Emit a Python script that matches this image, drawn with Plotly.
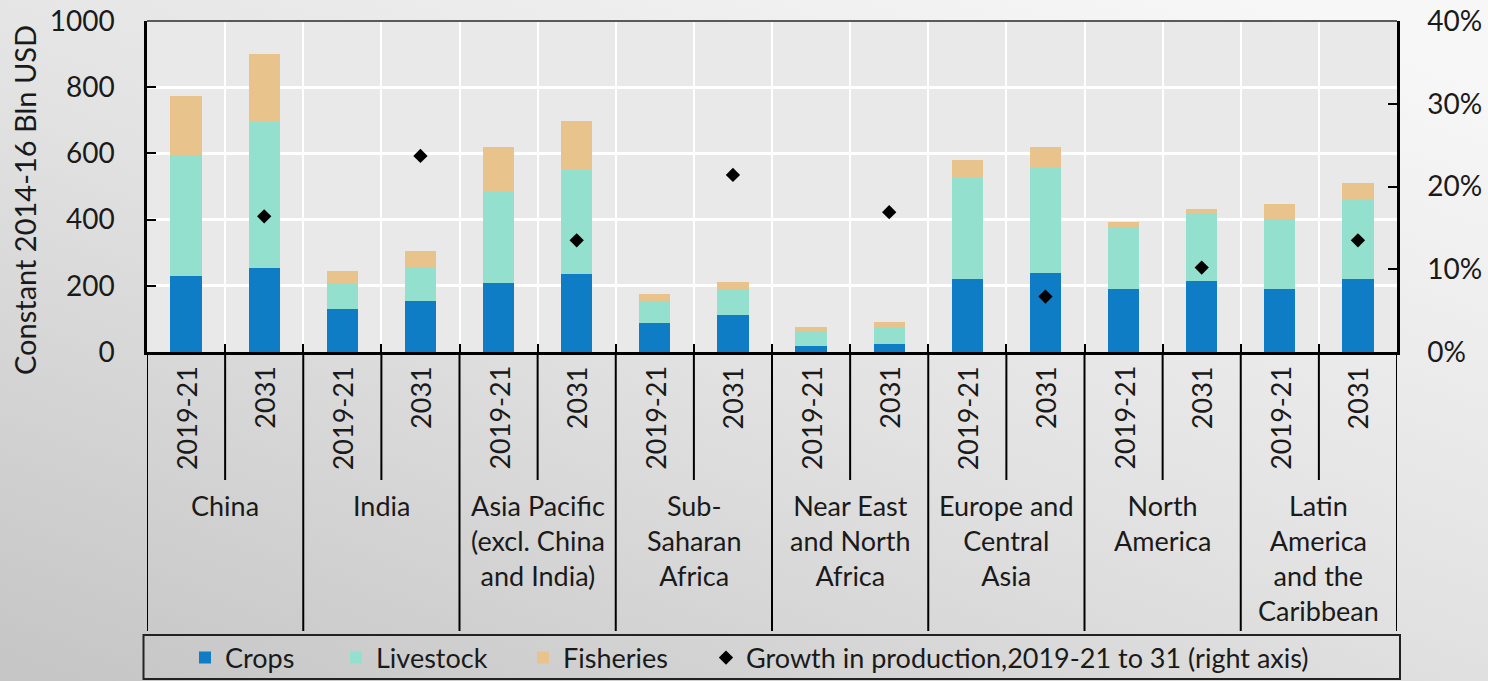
import base64
import plotly.graph_objects as go

# ---------------- data ----------------
regions = ["China", "India", "Asia Pacific<br>(excl. China<br>and India)", "Sub-<br>Saharan<br>Africa",
           "Near East<br>and North<br>Africa", "Europe and<br>Central<br>Asia", "North<br>America",
           "Latin<br>America<br>and the<br>Caribbean"]
periods = ["2019-21", "2031"]

crops = [231, 255, 130, 153, 208, 235, 88, 111, 18, 23, 220, 239, 189, 216, 189, 220]
livestock = [363, 441, 77, 105, 275, 316, 65, 78, 42, 50, 306, 321, 190, 202, 212, 239]
fisheries = [179, 204, 39, 46, 135, 148, 23, 23, 17, 19, 53, 58, 15, 14, 47, 51]
growth = [None, 0.164, None, 0.237, None, 0.135, None, 0.214,
          None, 0.169, None, 0.067, None, 0.102, None, 0.135]

y_ticks = [0, 200, 400, 600, 800, 1000]

# ---------------- layout constants ----------------
W, H = 1488, 681
ML, MR, MT, MB = 147, 91, 21, 329
PW = W - ML - MR
PH = H - MT - MB
FONT = "Lato"
TXT = "#1a1a1a"

n = len(crops)
xs = list(range(n))

fig = go.Figure()
fig.add_bar(x=xs, y=crops, name="Crops", marker_color="#0f7dc5", marker_line_width=0,
            legend="legend")
fig.add_bar(x=xs, y=livestock, name="Livestock", marker_color="#93e0ce", marker_line_width=0,
            legend="legend2")
fig.add_bar(x=xs, y=fisheries, name="Fisheries", marker_color="#e8c48c", marker_line_width=0,
            legend="legend3")
fig.add_scatter(x=xs, y=growth, name="Growth in production,2019-21 to 31 (right axis)",
                mode="markers", yaxis="y2", legend="legend4",
                marker=dict(symbol="diamond", size=11, color="black"))


def px_y(p):
    return (H - MB - p) / PH


def px_x(p):
    return (p - ML) / PW


annotations = []
shapes = []

# period labels
for i in xs:
    annotations.append(dict(x=i, y=0, xref="x", yref="paper", text=periods[i % 2],
                            textangle=-90, showarrow=False, xanchor="center", yanchor="top",
                            yshift=-12, font=dict(family=FONT, size=27, color=TXT)))
# region labels
for g, r in enumerate(regions):
    annotations.append(dict(x=2 * g + 0.5, y=0, xref="x", yref="paper", text=r,
                            showarrow=False, xanchor="center", yanchor="top",
                            yshift=-135, font=dict(family=FONT, size=27, color=TXT)))

# y axis title
annotations.append(dict(x=px_x(24), y=px_y(200), xref="paper", yref="paper",
                        text="Constant 2014-16 Bln USD", textangle=-90, showarrow=False,
                        xanchor="center", yanchor="middle",
                        font=dict(family=FONT, size=29, color=TXT)))

# separators below axis
for k in range(n + 1):
    b = k - 0.5
    bottom = 631 if k % 2 == 0 else 480
    shapes.append(dict(type="line", xref="x", yref="paper", x0=b, x1=b,
                       y0=0, y1=px_y(bottom), line=dict(color="black", width=2)))

# plot-area background (above gradient image)
shapes.append(dict(type="rect", xref="paper", yref="paper", x0=0, x1=1, y0=0, y1=1,
                   fillcolor="#e9e9e9", line=dict(width=0), layer="below"))
# top border
shapes.append(dict(type="line", xref="paper", yref="paper", x0=0, x1=1, y0=1, y1=1,
                   line=dict(color="#5a5a5a", width=2)))
# legend box
shapes.append(dict(type="rect", xref="paper", yref="paper",
                   x0=px_x(143.5), x1=px_x(1400), y0=px_y(679), y1=px_y(635),
                   line=dict(color="#222222", width=2)))

svg = ('<svg xmlns="http://www.w3.org/2000/svg" width="1488" height="681">'
       '<defs><linearGradient id="g" x1="0.85" y1="0" x2="0.05" y2="1">'
       '<stop offset="0" stop-color="#f7f7f7"/><stop offset="0.5" stop-color="#e2e2e2"/>'
       '<stop offset="1" stop-color="#c6c6c6"/></linearGradient></defs>'
       '<rect width="1488" height="681" fill="url(#g)"/></svg>')
src = "data:image/svg+xml;base64," + base64.b64encode(svg.encode()).decode()

leg_common = dict(orientation="h", xref="paper", yref="paper", xanchor="left",
                  yanchor="middle", bgcolor="rgba(0,0,0,0)", y=px_y(658),
                  font=dict(family=FONT, size=27, color=TXT), itemclick=False,
                  itemdoubleclick=False)

fig.update_layout(
    width=W, height=H,
    margin=dict(l=ML, r=MR, t=MT, b=MB, autoexpand=False),
    paper_bgcolor="#e2e2e2", plot_bgcolor="rgba(0,0,0,0)",
    barmode="stack", bargap=0.6,
    font=dict(family=FONT, size=27, color=TXT),
    images=[dict(source=src, xref="paper", yref="paper", x=-ML / PW, y=1 + MT / PH,
                 sizex=W / PW, sizey=H / PH, xanchor="left", yanchor="top",
                 sizing="stretch", layer="below")],
    xaxis=dict(range=[-0.5, n - 0.5], tickvals=[k - 0.5 for k in range(n + 1)],
               showticklabels=False, ticks="inside", ticklen=8, tickwidth=2, tickcolor="black",
               showgrid=True, gridcolor="white", gridwidth=2, zeroline=False,
               showline=True, linecolor="black", linewidth=3),
    yaxis=dict(range=[0, 1000], tickvals=y_ticks, ticks="inside", ticklen=9, tickwidth=2,
               tickcolor="black", showgrid=True, gridcolor="white", gridwidth=2.5,
               zeroline=False, showline=True, linecolor="black", linewidth=2.5,
               ticklabelstandoff=24, tickfont=dict(size=28)),
    yaxis2=dict(range=[0, 0.4], dtick=0.1, tickformat=".0%", overlaying="y", side="right",
                ticks="inside", ticklen=9, tickwidth=2, tickcolor="black", showgrid=False,
                zeroline=False, showline=True, linecolor="black", linewidth=2.5,
                ticklabelstandoff=22, tickfont=dict(size=28)),
    showlegend=True,
    legend=dict(leg_common, x=px_x(185)),
    legend2=dict(leg_common, x=px_x(336)),
    legend3=dict(leg_common, x=px_x(523)),
    legend4=dict(leg_common, x=px_x(706)),
    annotations=annotations, shapes=shapes,
)

fig.write_html("out.html", config={"displayModeBar": False},
               post_script="document.body.style.margin='0px';document.body.style.overflow='hidden';")
